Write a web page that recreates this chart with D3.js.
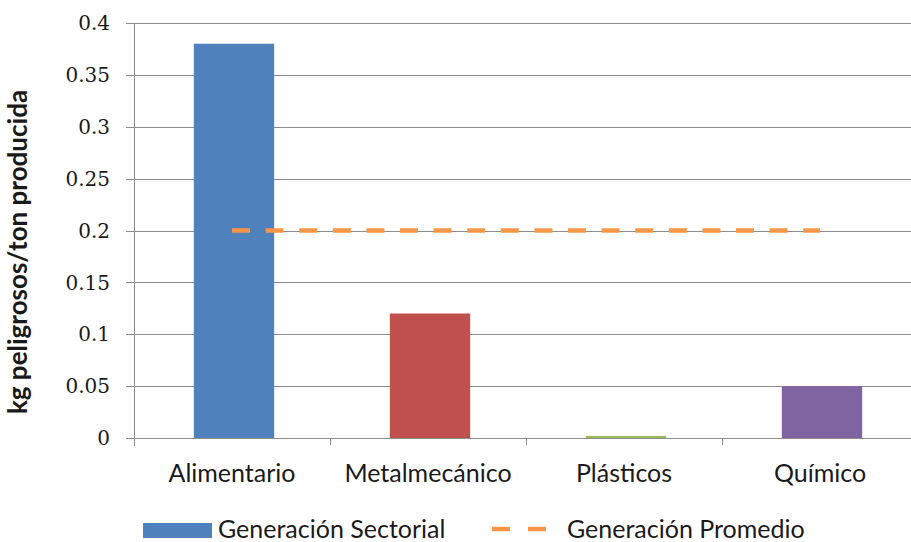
<!DOCTYPE html>
<html>
<head>
<meta charset="utf-8">
<script src="https://cdn.jsdelivr.net/npm/d3@7"></script>
<style>
  html, body { margin: 0; padding: 0; background: #fff; }
  svg { display: block; }
</style>
</head>
<body>
<svg id="chart" width="911" height="542"></svg>
<script>
// Waste generation by industrial sector (kg hazardous waste per ton produced)
const categories = ["Alimentario", "Metalmecánico", "Plásticos", "Químico"];
const sectorial = [0.38, 0.12, 0.002, 0.05];
const promedio = [0.2, 0.2, 0.2, 0.2];
const yTicks = [0, 0.05, 0.1, 0.15, 0.2, 0.25, 0.3, 0.35, 0.4];
const barColors = ["#4F81BD", "#C0504D", "#9BBB59", "#8064A2"];
const seriesNames = ["Generación Sectorial", "Generación Promedio"];
const yTitle = "kg peligrosos/ton producida";

const svg = d3.select("#chart");
const plot = { left: 134, right: 918, top: 23, bottom: 438 };
const gridColor = "#8C8C8C";
const lineColor = "#F79646";
const textColor = "#1a1a1a";
const sansFont = "Lato, 'Open Sans', sans-serif";
const serifFont = "'DejaVu Serif', 'Liberation Serif', serif";

const y = d3.scaleLinear().domain([0, 0.4]).range([plot.bottom, plot.top]);
const x = d3.scaleBand().domain(categories).range([plot.left, plot.right]).padding(0);
const barWidth = x.bandwidth() * 0.41;

// horizontal gridlines, extended left as tick marks
svg.append("g")
  .selectAll("line")
  .data(yTicks)
  .join("line")
  .attr("x1", plot.left - 8)
  .attr("x2", plot.right)
  .attr("y1", d => Math.round(y(d)) + 0.5)
  .attr("y2", d => Math.round(y(d)) + 0.5)
  .attr("stroke", gridColor)
  .attr("stroke-width", 1);

// y axis line
svg.append("line")
  .attr("x1", plot.left + 0.5).attr("x2", plot.left + 0.5)
  .attr("y1", plot.top).attr("y2", plot.bottom + 8)
  .attr("stroke", gridColor);

// category separators on the x axis
svg.append("g")
  .selectAll("line")
  .data(categories.slice(1))
  .join("line")
  .attr("x1", d => Math.round(x(d)) + 0.5)
  .attr("x2", d => Math.round(x(d)) + 0.5)
  .attr("y1", plot.bottom)
  .attr("y2", plot.bottom + 7)
  .attr("stroke", gridColor);

// y tick labels
svg.append("g")
  .selectAll("text")
  .data(yTicks)
  .join("text")
  .attr("x", 110)
  .attr("y", d => y(d))
  .attr("dy", "0.36em")
  .attr("text-anchor", "end")
  .attr("font-family", serifFont)
  .attr("font-size", 20)
  .attr("fill", textColor)
  .text(d => d3.format("")(d));

// bars
svg.append("g")
  .selectAll("rect")
  .data(sectorial)
  .join("rect")
  .attr("x", (d, i) => x(categories[i]) + (x.bandwidth() - barWidth) / 2 + 2)
  .attr("y", d => y(d))
  .attr("width", barWidth)
  .attr("height", d => y(0) - y(d))
  .attr("fill", (d, i) => barColors[i]);

// average generation line
const line = d3.line()
  .x((d, i) => x(categories[i]) + x.bandwidth() / 2)
  .y(d => y(d));
svg.append("path")
  .datum(promedio)
  .attr("d", line)
  .attr("fill", "none")
  .attr("stroke", lineColor)
  .attr("stroke-width", 4.5)
  .attr("stroke-dasharray", "18,15.6");

// category labels
svg.append("g")
  .selectAll("text")
  .data(categories)
  .join("text")
  .attr("x", d => x(d) + x.bandwidth() / 2)
  .attr("y", 482)
  .attr("text-anchor", "middle")
  .attr("font-family", sansFont)
  .attr("font-size", 25)
  .attr("fill", textColor)
  .text(d => d);

// y axis title
svg.append("text")
  .attr("transform", "translate(27,252) rotate(-90)")
  .attr("text-anchor", "middle")
  .attr("font-family", sansFont)
  .attr("font-weight", "bold")
  .attr("font-size", 26)
  .attr("fill", textColor)
  .text(yTitle);

// legend
const legend = svg.append("g");
legend.append("rect")
  .attr("x", 143).attr("y", 523)
  .attr("width", 69).attr("height", 15)
  .attr("fill", barColors[0]);
legend.append("text")
  .attr("x", 218).attr("y", 538)
  .attr("font-family", sansFont)
  .attr("font-size", 25)
  .attr("fill", textColor)
  .text(seriesNames[0]);
legend.append("line")
  .attr("x1", 492).attr("x2", 550)
  .attr("y1", 529).attr("y2", 529)
  .attr("stroke", lineColor)
  .attr("stroke-width", 4.5)
  .attr("stroke-dasharray", "18,18");
legend.append("text")
  .attr("x", 567).attr("y", 538)
  .attr("font-family", sansFont)
  .attr("font-size", 25)
  .attr("fill", textColor)
  .text(seriesNames[1]);
</script>
</body>
</html>
